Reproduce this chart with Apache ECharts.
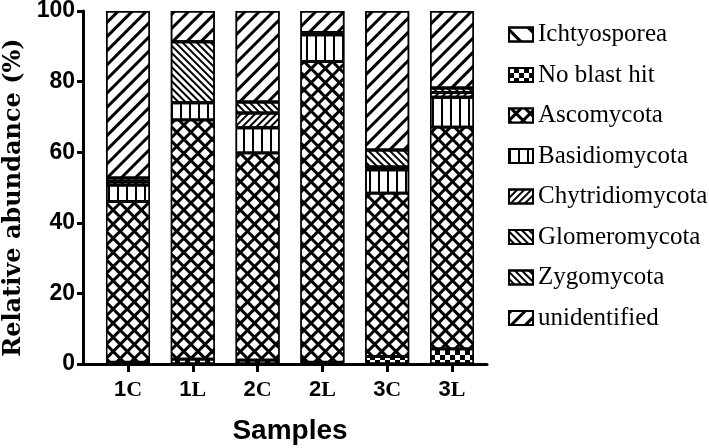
<!DOCTYPE html>
<html>
<head>
<meta charset="utf-8">
<script src="https://cdn.jsdelivr.net/npm/echarts@6/dist/echarts.min.js"></script>
<style>html,body{margin:0;padding:0;background:#fff;}#c{width:709px;height:448px;}</style>
</head>
<body>
<div id="c"></div>
<script>
var categories = ['1C', '1L', '2C', '2L', '3C', '3L'];
var yTicks = [0, 20, 40, 60, 80, 100];
var ichtyosporea   = [0, 0, 0, 0, 0, 0];
var noBlastHit     = [0.5, 1.4, 1.1, 0.5, 2.1, 4.3];
var ascomycota     = [45.5, 67.7, 58.7, 85.2, 46.3, 62.8];
var basidiomycota  = [4.7, 4.9, 7.1, 7.6, 6.6, 8.5];
var chytridiomycota= [1.0, 0, 4.2, 0.6, 0.8, 1.3];
var glomeromycota  = [1.0, 17.3, 3.1, 0, 4.8, 1.3];
var zygomycota     = [0, 0, 0, 0, 0, 0];
var unidentified   = [47.3, 8.7, 25.8, 6.1, 39.4, 21.8];

var seriesNames = ['Ichtyosporea', 'No blast hit', 'Ascomycota', 'Basidiomycota', 'Chytridiomycota', 'Glomeromycota', 'Zygomycota', 'unidentified'];
var seriesData = [ichtyosporea, noBlastHit, ascomycota, basidiomycota, chytridiomycota, glomeromycota, zygomycota, unidentified];

var Q = Math.PI / 4;
var styles = [
  {color: '#fff', decal: {symbol: 'rect', color: '#000', dashArrayX: [1, 0], dashArrayY: [3, 12], rotation: Q}},
  {color: '#fff', decal: {symbol: 'rect', color: '#000', dashArrayX: [[5, 5], [0, 5, 5, 0]], dashArrayY: [5, 0]}},
  {color: '#000', decal: {symbol: 'rect', color: '#fff', dashArrayX: [7, 3], dashArrayY: [7, 3], rotation: Q}},
  {color: '#fff', decal: {symbol: 'rect', color: '#000', dashArrayX: [2, 7], dashArrayY: [1, 0]}},
  {color: '#fff', decal: {symbol: 'rect', color: '#000', dashArrayX: [1, 0], dashArrayY: [1.5, 2.5], rotation: -Q}},
  {color: '#fff', decal: {symbol: 'rect', color: '#000', dashArrayX: [1, 0], dashArrayY: [2, 3], rotation: Q}},
  {color: '#fff', decal: {symbol: 'rect', color: '#000', dashArrayX: [1, 0], dashArrayY: [2, 3], rotation: Q}},
  {color: '#fff', decal: {symbol: 'rect', color: '#000', dashArrayX: [1, 0], dashArrayY: [3, 7], rotation: -Q}}
];

var series = seriesNames.map(function (name, i) {
  return {
    name: name,
    type: 'bar',
    stack: 'total',
    xAxisIndex: 0,
    yAxisIndex: 0,
    barWidth: 44,
    data: seriesData[i].map(function (v) { return v === 0 ? '-' : v; }),
    itemStyle: {color: styles[i].color, borderColor: '#000', borderWidth: 1.5, decal: styles[i].decal},
    emphasis: {disabled: true},
    animation: false
  };
});

var chart = echarts.init(document.getElementById('c'), null, {renderer: 'canvas'});
chart.setOption({
  animation: false,
  backgroundColor: '#fff',
  grid: [
    {left: 95.6, right: 224.6, top: 11, bottom: 84, outerBoundsMode: 'none', containLabel: false},
    {left: 83, right: 222, top: 11, bottom: 84, outerBoundsMode: 'none', containLabel: false}
  ],
  legend: {
    orient: 'vertical',
    left: 503,
    top: 17,
    itemWidth: 24,
    itemHeight: 14,
    itemGap: 15.5,
    icon: 'rect',
    selectedMode: false,
    textStyle: {fontFamily: 'Liberation Serif', fontSize: 25, color: '#000'},
    data: seriesNames
  },
  xAxis: [
    {
      type: 'category', gridIndex: 0, data: categories,
      axisLine: {show: false},
      axisTick: {show: true, alignWithLabel: true, length: 8, lineStyle: {color: '#000', width: 3}},
      axisLabel: {
        margin: 15,
        formatter: function (v) { return '{d|' + v.charAt(0) + '}{l|' + v.slice(1) + '}'; },
        rich: {
          d: {fontFamily: 'Liberation Sans', fontWeight: 'bold', fontSize: 22, color: '#000'},
          l: {fontFamily: 'Liberation Serif', fontWeight: 'bold', fontSize: 22, color: '#000'}
        }
      },
      name: 'Samples', nameLocation: 'middle', nameGap: 53,
      nameTextStyle: {fontFamily: 'Liberation Sans', fontWeight: 'bold', fontSize: 28, color: '#000'}
    },
    {
      type: 'value', gridIndex: 1, min: 0, max: 1,
      axisLine: {show: true, lineStyle: {color: '#000', width: 3}},
      axisTick: {show: false}, axisLabel: {show: false}, splitLine: {show: false}
    }
  ],
  yAxis: [
    {type: 'value', gridIndex: 0, min: 0, max: 100, show: false},
    {
      type: 'value', gridIndex: 1, min: 0, max: 100, interval: 20,
      axisLine: {show: true, lineStyle: {color: '#000', width: 3}},
      axisTick: {show: true, length: 6, lineStyle: {color: '#000', width: 3}},
      splitLine: {show: false},
      axisLabel: {margin: 8, fontFamily: 'Liberation Sans', fontWeight: 'bold', fontSize: 23, color: '#000',
        formatter: function (v) { return yTicks.indexOf(v) >= 0 ? String(v) : ''; }},
      name: 'Relative abundance (%)', nameLocation: 'middle', nameGap: 56,
      nameTextStyle: {fontFamily: 'DejaVu Serif', fontWeight: 'bold', fontSize: 24, color: '#000', padding: [0, 20, 0, 0]}
    }
  ],
  series: series
});
</script>
</body>
</html>
